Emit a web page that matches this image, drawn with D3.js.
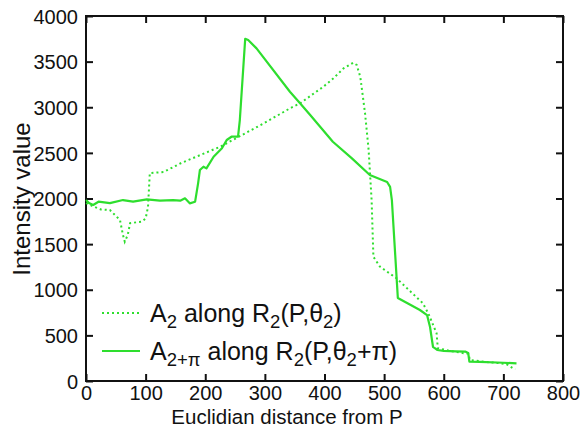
<!DOCTYPE html>
<html>
<head>
<meta charset="utf-8">
<script src="https://cdn.jsdelivr.net/npm/d3@7"></script>
<style>
  html, body { margin: 0; padding: 0; background: #fff; }
  svg { display: block; }
  text { font-family: "Liberation Sans", Arial, Helvetica, sans-serif; fill: #111; }
</style>
</head>
<body>
<svg id="chart" width="588" height="428"></svg>
<script>
// ---- data ----
const xTicks = [0, 100, 200, 300, 400, 500, 600, 700, 800];
const yTicks = [0, 500, 1000, 1500, 2000, 2500, 3000, 3500, 4000];

// A2 along R2(P, theta2)  (dotted)
const dottedX = [0, 10, 25, 40, 57, 62, 65, 70, 74, 93, 100, 104, 107, 130, 160, 225, 300, 342, 359, 398, 415, 432, 448, 454, 460, 468, 474, 479, 482, 493, 520, 565, 574, 588, 590, 610, 633, 641, 644, 670, 694, 705, 716, 720];
const dottedY = [1950, 1920, 1880, 1874, 1764, 1600, 1527, 1600, 1730, 1746, 1780, 1908, 2278, 2290, 2390, 2567, 2830, 2988, 3043, 3225, 3317, 3426, 3488, 3463, 3335, 2934, 2532, 1983, 1362, 1253, 1130, 852, 742, 523, 360, 330, 305, 300, 230, 210, 195, 185, 140, 130];

// A2+pi along R2(P, theta2+pi)  (solid)
const solidX = [0, 5, 12, 21, 40, 62, 79, 102, 124, 146, 158, 166, 174, 183, 188, 191, 197, 202, 214, 228, 236, 244, 255, 258, 267, 272, 286, 342, 359, 376, 414, 446, 476, 505, 510, 513, 523, 540, 560, 572, 577, 582, 589, 600, 620, 636, 641, 643, 660, 700, 722];
const solidY = [1983, 1950, 1929, 1965, 1950, 1983, 1965, 1991, 1976, 1983, 1976, 2002, 1947, 1965, 2166, 2312, 2348, 2330, 2458, 2550, 2641, 2677, 2677, 2860, 3750, 3737, 3645, 3170, 3043, 2915, 2622, 2440, 2258, 2181, 2128, 1983, 910, 850, 778, 723, 592, 373, 340, 330, 325, 322, 307, 212, 210, 200, 193];

const xTitle = "Euclidian distance from P";
const yTitle = "Intensity value";

// ---- layout ----
const svg = d3.select("#chart");
const L = 86, R = 563, T = 16, B = 381;
const green = "#2ede2e";
const x = d3.scaleLinear().domain([0, 800]).range([L, R]);
const y = d3.scaleLinear().domain([0, 4000]).range([B, T]);

// axes with inward ticks
const tickLen = 7;
const gB = svg.append("g").attr("transform", `translate(0,${B})`)
  .call(d3.axisBottom(x).tickValues(xTicks).tickSizeInner(-tickLen).tickSizeOuter(0).tickPadding(5).tickFormat(d3.format("d")));
const gL = svg.append("g").attr("transform", `translate(${L},0)`)
  .call(d3.axisLeft(y).tickValues(yTicks).tickSizeInner(-tickLen).tickSizeOuter(0).tickPadding(8).tickFormat(d3.format("d")));
const gT = svg.append("g").attr("transform", `translate(0,${T})`)
  .call(d3.axisTop(x).tickValues(xTicks).tickSizeInner(-tickLen).tickSizeOuter(0).tickFormat(""));
const gR = svg.append("g").attr("transform", `translate(${R},0)`)
  .call(d3.axisRight(y).tickValues(yTicks).tickSizeInner(-tickLen).tickSizeOuter(0).tickFormat(""));

[gB, gL, gT, gR].forEach(g => {
  g.select(".domain").remove();
  g.selectAll(".tick line").attr("stroke", "#111").attr("stroke-width", 2);
  g.selectAll(".tick text").attr("font-size", 20).attr("fill", "#111")
    .style("font-family", '"Liberation Sans", Arial, Helvetica, sans-serif');
});
gB.selectAll(".tick text").attr("dy", "0.71em");
gL.selectAll(".tick text").attr("dy", "0.36em");

// frame
svg.append("rect").attr("x", L).attr("y", T).attr("width", R - L).attr("height", B - T)
  .attr("fill", "none").attr("stroke", "#111").attr("stroke-width", 2);

// lines
const line = d3.line().x(d => x(d[0])).y(d => y(d[1]));
const dotted = dottedX.map((v, i) => [v, dottedY[i]]);
const solid = solidX.map((v, i) => [v, solidY[i]]);

svg.append("path").datum(dotted).attr("d", line)
  .attr("fill", "none").attr("stroke", green).attr("stroke-width", 2)
  .attr("stroke-dasharray", "2,3");
svg.append("path").datum(solid).attr("d", line)
  .attr("fill", "none").attr("stroke", green).attr("stroke-width", 2.2)
  .attr("stroke-linejoin", "round");

// axis titles
svg.append("text").attr("x", 287).attr("y", 423.5).attr("text-anchor", "middle")
  .attr("font-size", 20.5).text(xTitle);
svg.append("text").attr("transform", "translate(30,199) rotate(-90)").attr("text-anchor", "middle")
  .attr("font-size", 24).text(yTitle);

// legend
const legend = [
  { y: 313, dash: "2,3", parts: [["A"], ["2", 1], [" along R"], ["2", 1], ["(P,θ"], ["2", 1], [")"]] },
  { y: 351, dash: null, parts: [["A"], ["2+π", 1], [" along R"], ["2", 1], ["(P,θ"], ["2", 1], ["+π)"]] }
];
legend.forEach(item => {
  const l = svg.append("line").attr("x1", 102).attr("x2", 140).attr("y1", item.y).attr("y2", item.y)
    .attr("stroke", green).attr("stroke-width", 2);
  if (item.dash) l.attr("stroke-dasharray", item.dash);
  const t = svg.append("text").attr("x", 150).attr("y", item.y + 9).attr("font-size", 25);
  let shifted = false;
  item.parts.forEach(p => {
    const ts = t.append("tspan").text(p[0]);
    if (p[1]) { ts.attr("font-size", 18.5).attr("dy", 6); shifted = true; }
    else if (shifted) { ts.attr("dy", -6); shifted = false; }
  });
});
</script>
</body>
</html>
